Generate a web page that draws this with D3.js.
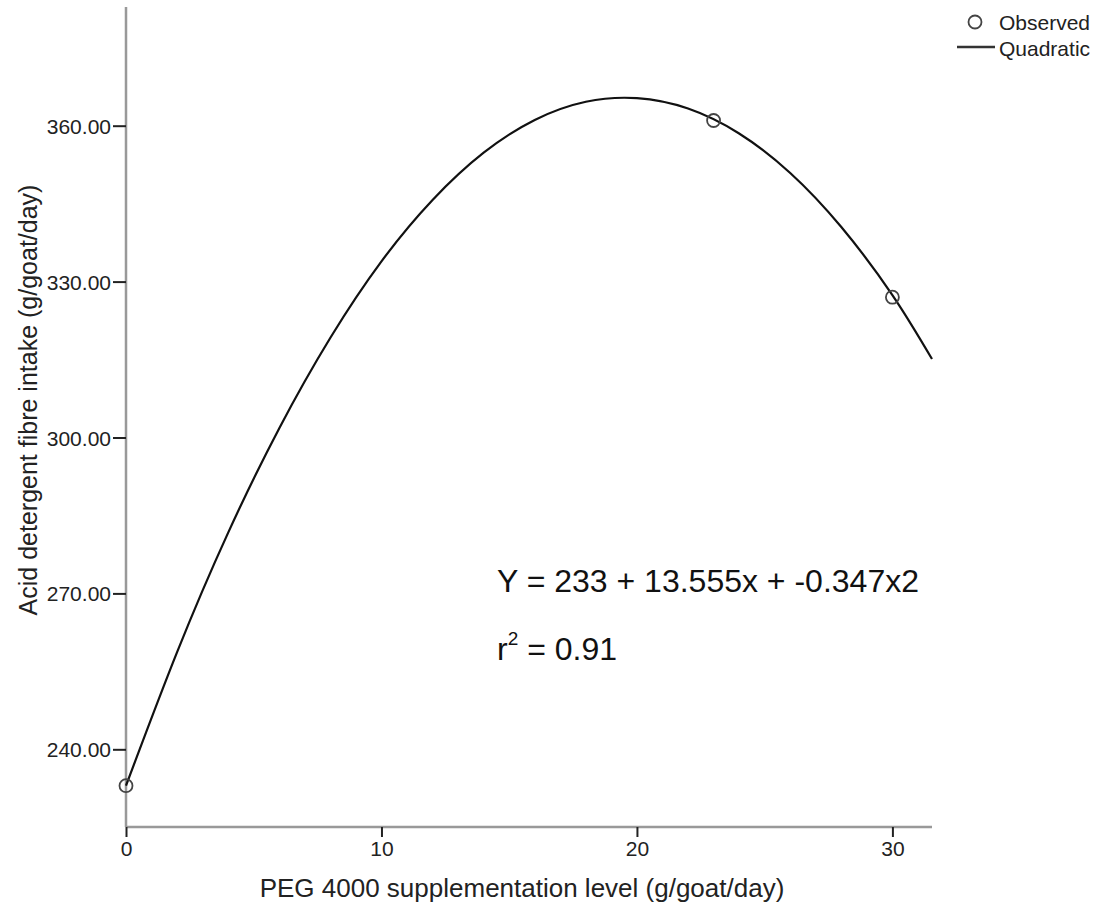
<!DOCTYPE html>
<html>
<head>
<meta charset="utf-8">
<script src="https://cdn.jsdelivr.net/npm/d3@7"></script>
<style>
  body { margin: 0; background: #fff; }
  text { font-family: "Liberation Sans", Arial, sans-serif; }
</style>
</head>
<body>
<div id="root"></div>
<script>
// observed points
const obsX = [0, 23, 30]
const obsY = [233, 361, 327]

// quadratic fit
const fitX = [0, 2, 4, 6, 8, 10, 12, 14, 16, 18, 20, 22, 24, 26, 28, 30, 31.55]
const fitY = [233, 258.7, 281.7, 301.8, 319.2, 333.9, 345.7, 354.8, 361.1, 364.6, 365.3, 363.3, 358.5, 350.9, 340.5, 327.4, 315.1]

const xTicks = [0, 10, 20, 30]
const yTicks = [240, 270, 300, 330, 360]

const width = 1100
const height = 919
const margin = { top: 7, right: 168, bottom: 92, left: 126 }
const boundedWidth = width - margin.left - margin.right
const boundedHeight = height - margin.top - margin.bottom

const svg = d3.select("#root").append("svg")
  .attr("width", width)
  .attr("height", height)

const bounds = svg.append("g")
  .attr("transform", `translate(${margin.left},${margin.top})`)

const xScale = d3.scaleLinear()
  .domain([0, 31.55])
  .range([0, boundedWidth])

const yScale = d3.scaleLinear()
  .domain([225.05, 382.84])
  .range([boundedHeight, 0])

// axes
const xAxis = bounds.append("g")
  .attr("transform", `translate(0,${boundedHeight})`)
  .call(d3.axisBottom(xScale).tickValues(xTicks).tickSize(10).tickPadding(4).tickFormat(d3.format("d")))
const yAxis = bounds.append("g")
  .call(d3.axisLeft(yScale).tickValues(yTicks).tickSize(13).tickPadding(2).tickFormat(d3.format(".2f")))

;[xAxis, yAxis].forEach(a => {
  a.select(".domain").attr("stroke", "#999").attr("stroke-width", 2.5)
  a.selectAll(".tick line").attr("stroke", "#222").attr("stroke-width", 2)
  a.selectAll(".tick text")
    .attr("fill", "#222")
    .style("font-size", "21px")
})
// axisBottom draws the domain with outer ticks, drop them
xAxis.select(".domain").attr("d", `M0,0H${boundedWidth}`)
yAxis.select(".domain").attr("d", `M0,${boundedHeight}V0`)
yAxis.selectAll(".tick text").attr("dy", "0.36em")

// fit line
const line = d3.line()
  .x((d, i) => xScale(fitX[i]))
  .y(d => yScale(d))
  .curve(d3.curveNatural)

bounds.append("path")
  .datum(fitY)
  .attr("d", line)
  .attr("fill", "none")
  .attr("stroke", "#111")
  .attr("stroke-width", 2.2)

bounds.selectAll("circle.obs")
  .data(obsY)
  .join("circle")
  .attr("class", "obs")
  .attr("cx", (d, i) => xScale(obsX[i]))
  .attr("cy", d => yScale(d))
  .attr("r", 6.5)
  .attr("fill", "none")
  .attr("stroke", "#444")
  .attr("stroke-width", 1.8)

// axis labels
svg.append("text")
  .attr("x", 522)
  .attr("y", 897)
  .attr("text-anchor", "middle")
  .attr("fill", "#222")
  .style("font-size", "26px")
  .text("PEG 4000 supplementation level (g/goat/day)")

svg.append("text")
  .attr("transform", `translate(37,400) rotate(-90)`)
  .attr("text-anchor", "middle")
  .attr("fill", "#222")
  .style("font-size", "25px")
  .text("Acid detergent fibre intake (g/goat/day)")

// equation
svg.append("text")
  .attr("x", 497)
  .attr("y", 592)
  .attr("fill", "#111")
  .style("font-size", "32px")
  .text("Y = 233 + 13.555x + -0.347x2")

const r2 = svg.append("text")
  .attr("x", 497)
  .attr("y", 660)
  .attr("fill", "#111")
  .style("font-size", "32px")
r2.append("tspan").text("r")
r2.append("tspan").attr("dy", -15).style("font-size", "19px").text("2")
r2.append("tspan").attr("dy", 15).text(" = 0.91")

// legend
const legend = svg.append("g").attr("transform", "translate(957,0)")
legend.append("circle")
  .attr("cx", 18).attr("cy", 22).attr("r", 6.5)
  .attr("fill", "none").attr("stroke", "#444").attr("stroke-width", 1.8)
legend.append("text")
  .attr("x", 42).attr("y", 30)
  .attr("fill", "#222")
  .style("font-size", "21px")
  .text("Observed")
legend.append("line")
  .attr("x1", 0).attr("x2", 38).attr("y1", 47).attr("y2", 47)
  .attr("stroke", "#333").attr("stroke-width", 2.5)
legend.append("text")
  .attr("x", 42).attr("y", 56)
  .attr("fill", "#222")
  .style("font-size", "21px")
  .text("Quadratic")
</script>
</body>
</html>
